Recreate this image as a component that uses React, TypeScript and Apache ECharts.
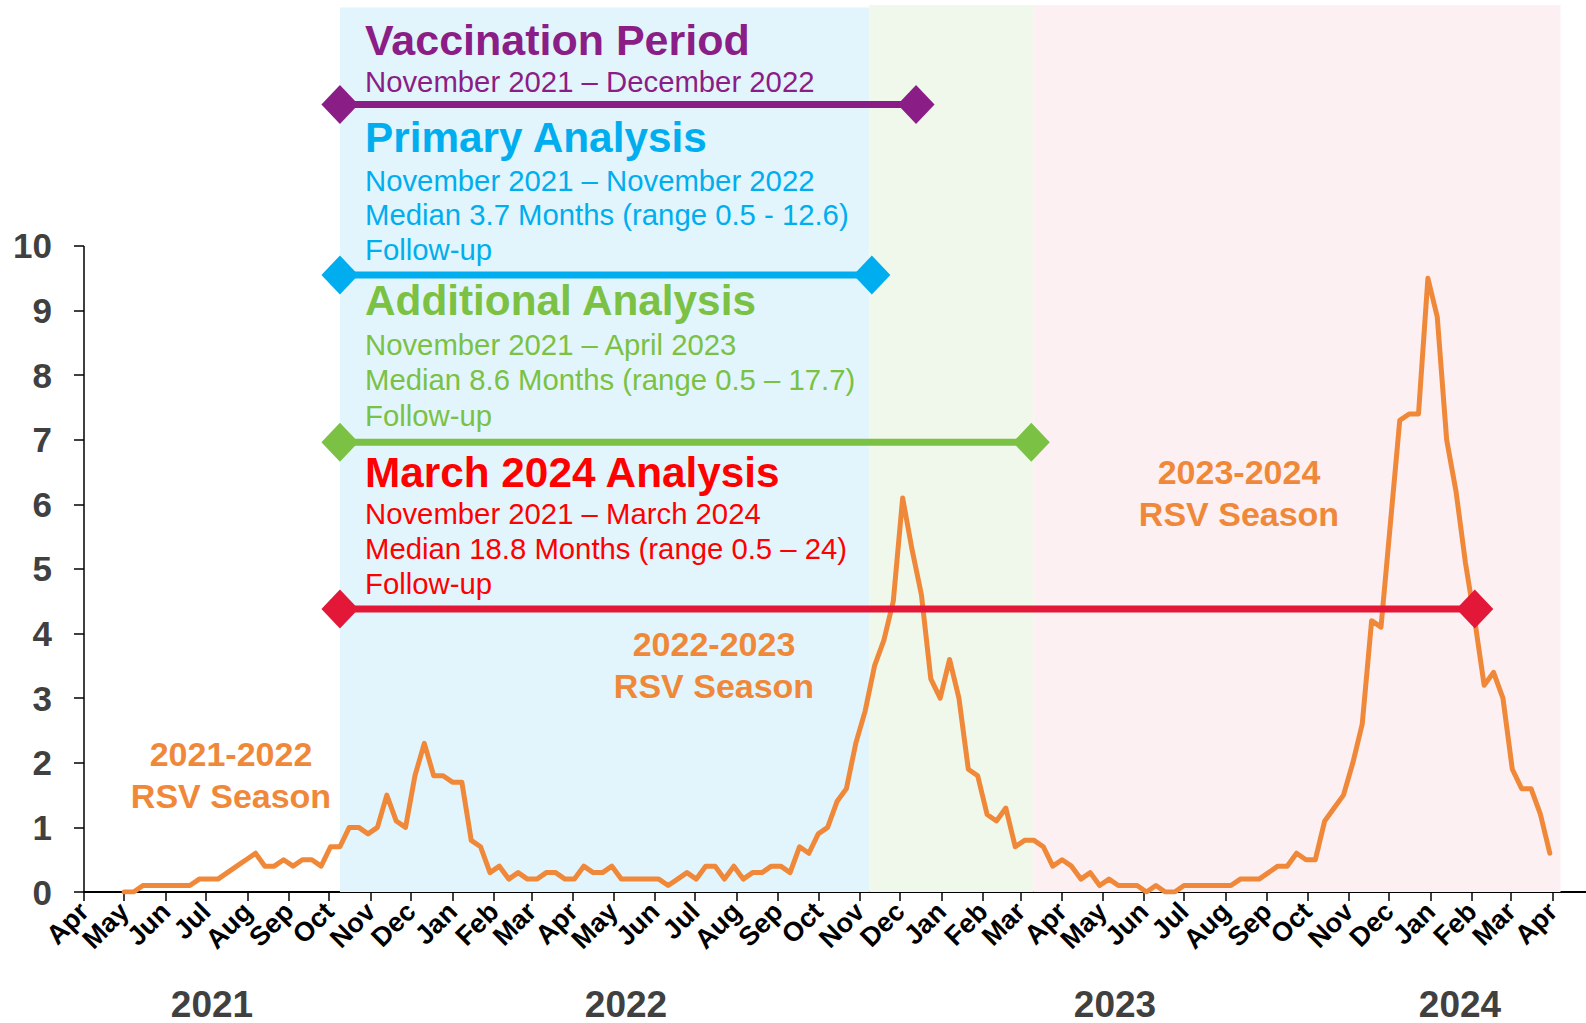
import React, { useEffect, useRef } from "react";
import * as echarts from "echarts";

const FONT = '"Liberation Sans", Arial, sans-serif';

// ---- Data ----
const ORIGIN = Date.UTC(2021, 3, 1); // 1 Apr 2021 = day 0
const DAY_MS = 86400000;
const dayOf = (y: number, m: number, d: number) => Math.round((Date.UTC(y, m - 1, d) - ORIGIN) / DAY_MS);

// Month tick labels, Apr 2021 .. Apr 2024
const monthLabels = [
  "Apr", "May", "Jun", "Jul", "Aug", "Sep", "Oct", "Nov", "Dec",
  "Jan", "Feb", "Mar", "Apr", "May", "Jun", "Jul", "Aug", "Sep", "Oct", "Nov", "Dec",
  "Jan", "Feb", "Mar", "Apr", "May", "Jun", "Jul", "Aug", "Sep", "Oct", "Nov", "Dec",
  "Jan", "Feb", "Mar", "Apr",
];
const yearLabels = ["2021", "2022", "2023", "2024"];
const yTickValues = [0, 1, 2, 3, 4, 5, 6, 7, 8, 9, 10];

// Weekly series starting 1 May 2021
const firstWeek = [2021, 5, 1];
const weeklyValues = [
  0, 0, 0.1, 0.1, 0.1, 0.1, 0.1, 0.1, 0.2, 0.2,
  0.2, 0.3, 0.4, 0.5, 0.6, 0.4, 0.4, 0.5, 0.4, 0.5,
  0.5, 0.4, 0.7, 0.7, 1.0, 1.0, 0.9, 1.0, 1.5, 1.1,
  1.0, 1.8, 2.3, 1.8, 1.8, 1.7, 1.7, 0.8, 0.7, 0.3,
  0.4, 0.2, 0.3, 0.2, 0.2, 0.3, 0.3, 0.2, 0.2, 0.4,
  0.3, 0.3, 0.4, 0.2, 0.2, 0.2, 0.2, 0.2, 0.1, 0.2,
  0.3, 0.2, 0.4, 0.4, 0.2, 0.4, 0.2, 0.3, 0.3, 0.4,
  0.4, 0.3, 0.7, 0.6, 0.9, 1.0, 1.4, 1.6, 2.3, 2.8,
  3.5, 3.9, 4.5, 6.1, 5.3, 4.6, 3.3, 3.0, 3.6, 3.0,
  1.9, 1.8, 1.2, 1.1, 1.3, 0.7, 0.8, 0.8, 0.7, 0.4,
  0.5, 0.4, 0.2, 0.3, 0.1, 0.2, 0.1, 0.1, 0.1, 0,
  0.1, 0, 0, 0.1, 0.1, 0.1, 0.1, 0.1, 0.1, 0.2,
  0.2, 0.2, 0.3, 0.4, 0.4, 0.6, 0.5, 0.5, 1.1, 1.3,
  1.5, 2.0, 2.6, 4.2, 4.1, 5.7, 7.3, 7.4, 7.4, 9.5,
  8.9, 7.0, 6.2, 5.1, 4.2, 3.2, 3.4, 3.0, 1.9, 1.6,
  1.6, 1.2, 0.6,
];

// Season background bands (day offsets)
const bandStart = [191, 586, 708.5];
const bandEnd = [586, 708.5, 1102];
const bandTop = [13.69, 13.73, 13.73];
const bandColors = ["#E2F5FC", "#F0F8EB", "#FCF0F3"];

// Study periods (horizontal bars with diamond ends)
const periodNames = ["Vaccination Period", "Primary Analysis", "Additional Analysis", "March 2024 Analysis"];
const periodStart = [191, 191, 191, 191];
const periodEnd = [621, 588, 707, 1038];
const periodLevel = [12.19, 9.55, 6.96, 4.38];
const periodColors = ["#8B1E86", "#00AEEF", "#7BC143", "#E31838"];
const periodTextColors = ["#8B1E86", "#00AEEF", "#7BC143", "#FF0000"];
const periodDetails = [
  ["November 2021 \u2013 December 2022"],
  ["November 2021 \u2013 November 2022", "Median 3.7 Months (range 0.5 - 12.6)", "Follow-up"],
  ["November 2021 \u2013 April 2023", "Median 8.6 Months (range 0.5 \u2013 17.7)", "Follow-up"],
  ["November 2021 \u2013 March 2024", "Median 18.8 Months (range 0.5 \u2013 24)", "Follow-up"],
];
const seasonLabels = ["2021-2022", "2022-2023", "2023-2024"];

const ORANGE = "#F0883A";

export default function App() {
  const ref = useRef<HTMLDivElement>(null);

  useEffect(() => {
    if (!ref.current) return;
    const chart = echarts.init(ref.current, null, { renderer: "svg" });

    const tickDays = monthLabels.map((_, i) => {
      const m0 = 3 + i; // months since Jan 2021
      return dayOf(2021 + Math.floor(m0 / 12), (m0 % 12) + 1, 1);
    });
    const labelByDay: Record<number, string> = {};
    tickDays.forEach((d, i) => (labelByDay[d] = monthLabels[i]));

    const d0 = dayOf(firstWeek[0], firstWeek[1], firstWeek[2]);
    const lineData = weeklyValues.map((v, i) => [d0 + 7 * i, v]);

    const periodSeries = periodNames.map((name, i) => ({
      name,
      type: "line",
      z: 5,
      data: [
        [periodStart[i], periodLevel[i]],
        [periodEnd[i], periodLevel[i]],
      ],
      symbol: "diamond",
      symbolSize: [37, 39],
      showSymbol: true,
      itemStyle: { color: periodColors[i] },
      lineStyle: { color: periodColors[i], width: 7 },
      silent: true,
    }));

    // annotation texts
    const titleY = [39.7, 137.4, 300.7, 472.4];
    const titleSize = [43, 42.3, 42.3, 42.3];
    const detailY = [[81.8], [180.1, 214.1, 249.4], [344.1, 379.4, 415.1], [513.4, 548.4, 583.4]];
    const graphics: any[] = [];
    periodNames.forEach((name, i) => {
      graphics.push({
        type: "text", x: 365, y: titleY[i], z: 100,
        style: { text: name, fill: periodTextColors[i], fontSize: titleSize[i], fontWeight: "bold", fontFamily: FONT, align: "left", verticalAlign: "middle" },
      });
      periodDetails[i].forEach((t, j) => {
        graphics.push({
          type: "text", x: 365, y: detailY[i][j], z: 100,
          style: { text: t, fill: periodTextColors[i], fontSize: 29.3, fontFamily: FONT, align: "left", verticalAlign: "middle" },
        });
      });
    });
    const seasonX = [231, 714, 1239];
    const seasonY = [754.4, 644, 471.7];
    seasonLabels.forEach((s, i) => {
      [s, "RSV Season"].forEach((t, j) => {
        graphics.push({
          type: "text", x: seasonX[i], y: seasonY[i] + j * 42, z: 100,
          style: { text: t, fill: ORANGE, fontSize: 34, fontWeight: "bold", fontFamily: FONT, align: "center", verticalAlign: "middle" },
        });
      });
    });
    const yearX = [212, 626, 1115, 1460];
    yearLabels.forEach((t, i) => {
      graphics.push({
        type: "text", x: yearX[i], y: 1004, z: 100,
        style: { text: t, fill: "#404040", fontSize: 37, fontWeight: "bold", fontFamily: FONT, align: "center", verticalAlign: "middle" },
      });
    });

    const option: any = {
      animation: false,
      grid: { left: 84, right: 0, top: 5, bottom: 131, containLabel: false },
      xAxis: {
        type: "value",
        min: 0,
        max: 1121,
        axisLine: { show: true, onZero: false, lineStyle: { color: "#000", width: 2 } },
        axisTick: { show: true, customValues: tickDays, length: 9, lineStyle: { color: "#000", width: 1.5 } },
        axisLabel: {
          show: true,
          customValues: tickDays,
          rotate: 45,
          margin: 15,
          formatter: (v: number) => labelByDay[Math.round(v)] ?? "",
          color: "#000",
          fontSize: 27,
          fontWeight: "bold",
          fontFamily: FONT,
        },
        splitLine: { show: false },
      },
      yAxis: {
        type: "value",
        min: 0,
        max: 13.73,
        axisLine: { show: false },
        axisTick: { show: true, customValues: yTickValues, length: 10, lineStyle: { color: "#000", width: 1.5 } },
        axisLabel: {
          show: true,
          customValues: yTickValues,
          margin: 32,
          color: "#404040",
          fontSize: 35,
          fontWeight: "bold",
          fontFamily: FONT,
        },
        splitLine: { show: false },
      },
      graphic: { elements: graphics },
      series: [
        {
          name: "bands",
          type: "line",
          z: 0,
          data: [],
          silent: true,
          markArea: {
            silent: true,
            label: { show: false },
            data: bandStart.map((s, i) => [
              { coord: [s, 0], itemStyle: { color: bandColors[i] } },
              { coord: [bandEnd[i], bandTop[i]] },
            ]),
          },
        },
        {
          name: "RSV",
          type: "line",
          z: 3,
          data: lineData,
          showSymbol: false,
          symbol: "none",
          lineStyle: { color: ORANGE, width: 5, join: "round", cap: "round" },
          silent: true,
          markLine: {
            silent: true,
            symbol: ["none", "none"],
            label: { show: false },
            lineStyle: { color: "#000", width: 1.5, type: "solid" },
            data: [[{ coord: [0, 0] }, { coord: [0, 10] }]],
          },
        },
        ...periodSeries,
      ],
    };

    chart.setOption(option);
    return () => chart.dispose();
  }, []);

  return (
    <div
      ref={ref}
      style={{ position: "fixed", left: 0, top: 0, width: 1586, height: 1023, background: "#fff" }}
    />
  );
}
